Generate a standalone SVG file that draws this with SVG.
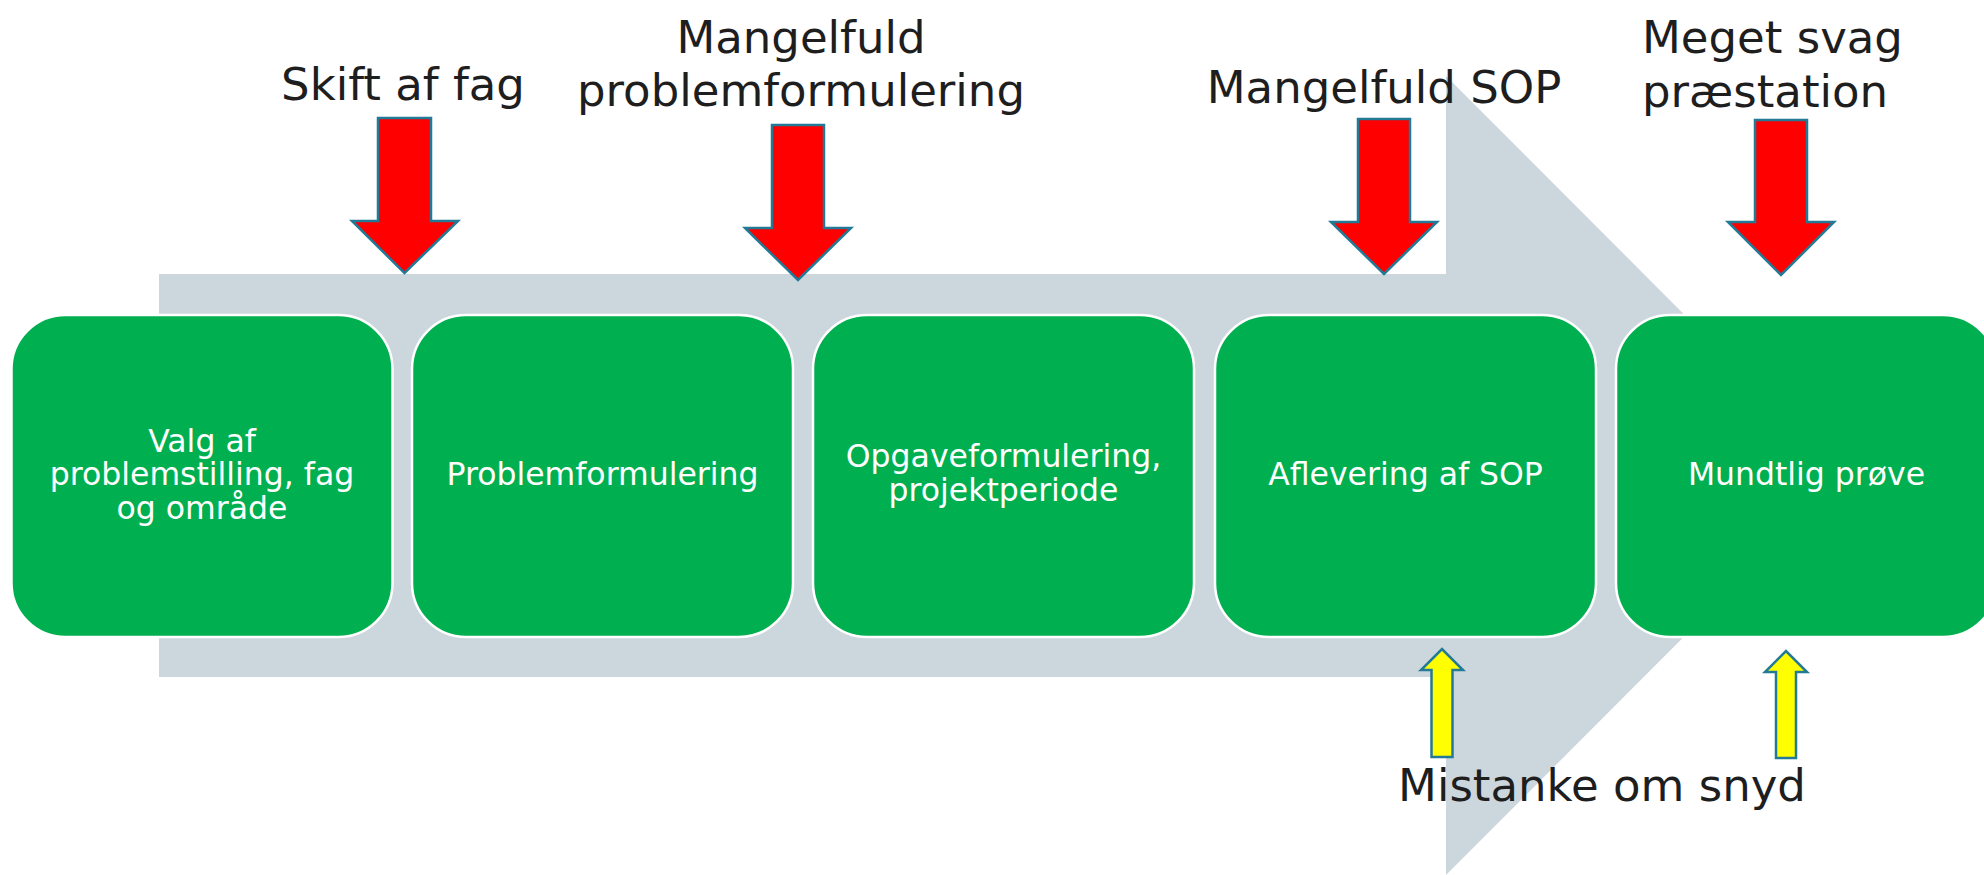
<svg xmlns="http://www.w3.org/2000/svg" width="1984" height="875" viewBox="0 0 1984 875">
  <style>
    .bg { fill: #CCD6DD; }
    .box { fill: #00B050; stroke: #FFFFFF; stroke-width: 2.5; }
    .boxtxt { font-family: "DejaVu Sans", Verdana, sans-serif; font-size: 31.5px; fill: #FFFFFF; text-anchor: middle; }
    .lbl { font-family: "DejaVu Sans", Verdana, sans-serif; font-size: 45px; fill: #1E1E1E; }
    .red { fill: #FF0000; stroke: #237A96; stroke-width: 2.5; stroke-linejoin: miter; }
    .yellow { fill: #FFFF00; stroke: #237A96; stroke-width: 2.5; stroke-linejoin: miter; }
  </style>
  <rect width="1984" height="875" fill="#FFFFFF"/>
  <g id="background-arrow">
    <polygon class="bg" points="159,274 1446,274 1446,76 1845,475.5 1446,875 1446,677 159,677"/>
  </g>
  <g id="node-valg">
    <rect class="box" x="11.5" y="315" width="381" height="322" rx="54" ry="54"/>
    <text class="boxtxt" x="202" y="451.5">Valg af</text>
    <text class="boxtxt" x="202" y="485">problemstilling, fag</text>
    <text class="boxtxt" x="202" y="518.5">og område</text>
  </g>
  <g id="node-problemformulering">
    <rect class="box" x="412" y="315" width="381" height="322" rx="54" ry="54"/>
    <text class="boxtxt" x="602.5" y="484.5">Problemformulering</text>
  </g>
  <g id="node-opgaveformulering">
    <rect class="box" x="813" y="315" width="381" height="322" rx="54" ry="54"/>
    <text class="boxtxt" x="1003.5" y="467">Opgaveformulering,</text>
    <text class="boxtxt" x="1003.5" y="501">projektperiode</text>
  </g>
  <g id="node-aflevering">
    <rect class="box" x="1215" y="315" width="381" height="322" rx="54" ry="54"/>
    <text class="boxtxt" x="1405.5" y="484.5">Aflevering af SOP</text>
  </g>
  <g id="node-mundtlig">
    <rect class="box" x="1616" y="315" width="381" height="322" rx="54" ry="54"/>
    <text class="boxtxt" x="1806.5" y="484.5">Mundtlig prøve</text>
  </g>
  <g id="labels">
    <text class="lbl" x="403" y="100" text-anchor="middle">Skift af fag</text>
    <text class="lbl" x="801" y="53" text-anchor="middle">Mangelfuld</text>
    <text class="lbl" x="801" y="106" text-anchor="middle">problemformulering</text>
    <text class="lbl" x="1384" y="103" text-anchor="middle">Mangelfuld SOP</text>
    <text class="lbl" x="1642" y="53">Meget svag</text>
    <text class="lbl" x="1642" y="107">præstation</text>
    <text class="lbl" x="1602" y="801" text-anchor="middle">Mistanke om snyd</text>
  </g>
  <g id="connectors">
    <polygon class="red" points="378,118 431,118 431,221 458,221 404.5,273 352,221 378,221"/>
    <polygon class="red" points="772,125 824,125 824,228 851,228 798,280 745,228 772,228"/>
    <polygon class="red" points="1358,119 1410,119 1410,222 1437,222 1384,274 1331,222 1358,222"/>
    <polygon class="red" points="1755,120 1807,120 1807,222 1834,222 1781,275 1728,222 1755,222"/>
    <polygon class="yellow" points="1431.5,757 1431.5,670 1421,670 1442,649 1463,670 1452.5,670 1452.5,757"/>
    <polygon class="yellow" points="1776,758 1776,672 1765,672 1786,651 1807,672 1796,672 1796,758"/>
  </g>
</svg>
